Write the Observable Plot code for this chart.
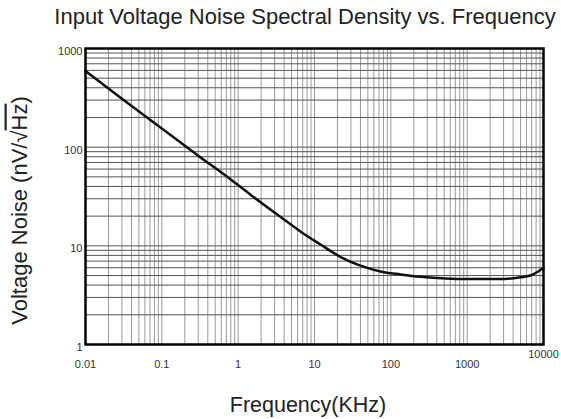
<!DOCTYPE html>
<html>
<head>
<meta charset="utf-8">
<script src="https://cdn.jsdelivr.net/npm/d3@7"></script>
<script src="https://cdn.jsdelivr.net/npm/@observablehq/plot@0.6"></script>
<style>
  html, body { margin: 0; padding: 0; background: #fff; }
  svg { display: block; }
</style>
</head>
<body>
<div id="chart"></div>
<script>
// Data
const freq  = [0.01, 0.03, 0.1, 0.3, 0.8, 1.45, 3.6, 6.6, 12, 22, 40, 73, 134, 245, 600, 1000, 2700, 5000, 6700, 8500, 10000];
const noise = [590,  309,  155, 82,  47,  33,   19.6, 13.9, 10.3, 7.7, 6.3, 5.5, 5.13, 4.85, 4.65, 4.6, 4.6, 4.8, 5.0, 5.5, 6.0];

// Tick labels
const xTickValues = [0.01, 0.1, 1, 10, 100, 1000, 10000];
const xTickLabels = ["0.01", "0.1", "1", "10", "100", "1000", "10000"];
const yTickValues = [1, 10, 100, 1000];
const yTickLabels = ["1", "10", "100", "1000"];

const title = "Input Voltage Noise Spectral Density vs. Frequency";
const xLabel = "Frequency(KHz)";
const yLabel = "Voltage Noise (nV/\u221AHz)";

// log grid positions (1..9 per decade)
const xGrid = [];
for (let d = -2; d < 4; d++) for (let k = 1; k < 10; k++) xGrid.push(k * 10 ** d);
xGrid.push(10000);
const yGrid = [];
for (let d = 0; d < 3; d++) for (let k = 1; k < 10; k++) yGrid.push(k * 10 ** d);
yGrid.push(1000);

const data = freq.map((f, i) => ({f, v: noise[i]}));
const xFmt = v => xTickLabels[xTickValues.indexOf(v)];
const yFmt = v => yTickLabels[yTickValues.indexOf(v)];
const font = "'Liberation Sans', Arial, Helvetica, sans-serif";

const chart = Plot.plot({
  width: 561,
  height: 419,
  marginLeft: 85,
  marginRight: 18,
  marginTop: 48,
  marginBottom: 75,
  style: {fontFamily: font, background: "#fff"},
  x: {type: "log", domain: [0.01, 10000], axis: null},
  y: {type: "log", domain: [1, 1000], axis: null},
  marks: [
    Plot.ruleX(xGrid, {stroke: "#9a9a9a", strokeWidth: 1}),
    Plot.ruleY(yGrid, {stroke: "#555", strokeWidth: 1}),
    Plot.line(data, {x: "f", y: "v", curve: "monotone-x", stroke: "#111", strokeWidth: 2.5}),
    Plot.frame({stroke: "#000", strokeWidth: 2.5}),
    Plot.axisX(xTickValues.filter(v => v !== 10000), {tickSize: 0, tickPadding: 16, tickFormat: xFmt, fontSize: 11, fill: "#333", label: null}),
    Plot.axisX([10000], {tickSize: 0, tickPadding: 6, tickFormat: xFmt, fontSize: 11, fill: "#333", label: null}),
    Plot.axisY(yTickValues, {tickSize: 0, tickPadding: 3, dy: 3, tickFormat: yFmt, fontSize: 11, fill: "#333", label: null}),
    Plot.text([title], {frameAnchor: "top", dx: -9.5, dy: -32, fontSize: 22, fill: "#222", lineAnchor: "middle", textAnchor: "middle"}),
    Plot.text([xLabel], {frameAnchor: "bottom", dx: -6.5, dy: 61, fontSize: 21.5, fill: "#222", lineAnchor: "middle", textAnchor: "middle"}),
    Plot.text([yLabel], {frameAnchor: "left", dx: -66, dy: 14, rotate: -90, fontSize: 22, fill: "#222", lineAnchor: "middle", textAnchor: "middle"})
  ]
});

document.getElementById("chart").appendChild(chart);

// add overline over "Hz" in the y label
d3.select(chart).selectAll("text").each(function() {
  const t = d3.select(this);
  if (t.text() === yLabel) {
    t.text(null);
    t.append("tspan").text("Voltage Noise (nV/\u221A");
    t.append("tspan").style("text-decoration", "overline").text("Hz");
    t.append("tspan").text(")");
  }
});
</script>
</body>
</html>
